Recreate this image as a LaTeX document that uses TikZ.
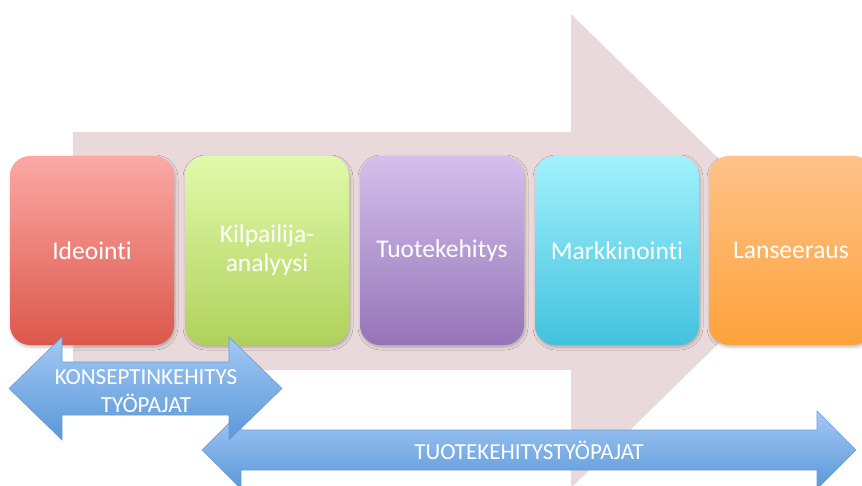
\documentclass[tikz,border=0pt]{standalone}
\usepackage{fontspec}
\setmainfont{Carlito}[Ligatures={NoCommon,NoContextual}]
\usetikzlibrary{shadows.blur}
\definecolor{bigpink}{HTML}{EAD9DA}
\definecolor{c1t}{HTML}{FBA9A5}\definecolor{c1b}{HTML}{DC574B}
\definecolor{c2t}{HTML}{E1FAAA}\definecolor{c2b}{HTML}{AFD15B}
\definecolor{c3t}{HTML}{D4C0EC}\definecolor{c3b}{HTML}{9574B8}
\definecolor{c4t}{HTML}{A2F1FC}\definecolor{c4b}{HTML}{42C2DE}
\definecolor{c5t}{HTML}{FEC389}\definecolor{c5b}{HTML}{FEA23A}
\definecolor{art}{HTML}{A3C8F5}\definecolor{arb}{HTML}{5A98D8}
\definecolor{arline}{HTML}{6A9DD6}
\begin{document}
\begin{tikzpicture}[x=1pt,y=-1pt,
  stagebox/.style={rounded corners=20pt, minimum width=164pt, minimum height=189pt,
    inner sep=0pt, text=white, align=center, font=\fontsize{25.5}{29}\selectfont,
    blur shadow={shadow xshift=1pt, shadow yshift=-2pt, shadow opacity=25, shadow blur radius=3pt}},
  blueshape/.style={top color=art, bottom color=arb, draw=arline, line width=0.6pt, line join=miter},
  arrowtext/.style={text=white, align=center, font=\fontsize{23}{28}\selectfont, inner sep=0pt}]
\useasboundingbox (0,0) rectangle (862,486);
% big background arrow
\fill[bigpink] (73,132) -- (571,132) -- (571,14) -- (813,251) -- (571,488) -- (571,370) -- (73,370) -- cycle;
% stage boxes
\node[stagebox, top color=c1t, bottom color=c1b] (ideo) at (92,250.5) {Ideointi};
\node[stagebox, top color=c2t, bottom color=c2b] (kilp) at (267,250.5) {Kilpailija-\\analyysi};
\node[stagebox, top color=c3t, bottom color=c3b] (tuote) at (442,250.5) {Tuotekehitys};
\node[stagebox, top color=c4t, bottom color=c4b] (mark) at (617,250.5) {Markkinointi};
\node[stagebox, top color=c5t, bottom color=c5b] (lans) at (791,250.5) {Lanseeraus};
% lower double arrow
\path[blueshape] (202,450) -- (241,411) -- (241,430) -- (817,430) -- (817,411) -- (856,450)
  -- (817,489) -- (817,470) -- (241,470) -- (241,489) -- cycle;
\node[arrowtext] (tuoteT) at (529,450.5) {TUOTEKEHITYSTYÖPAJAT};
% upper double arrow
\path[blueshape] (9,388.5) -- (62,337) -- (62,362) -- (229,362) -- (229,337) -- (282,388.5)
  -- (229,440) -- (229,415) -- (62,415) -- (62,440) -- cycle;
\node[arrowtext] (konsT) at (146,391) {KONSEPTINKEHITYS\\TYÖPAJAT};
\end{tikzpicture}
\end{document}
